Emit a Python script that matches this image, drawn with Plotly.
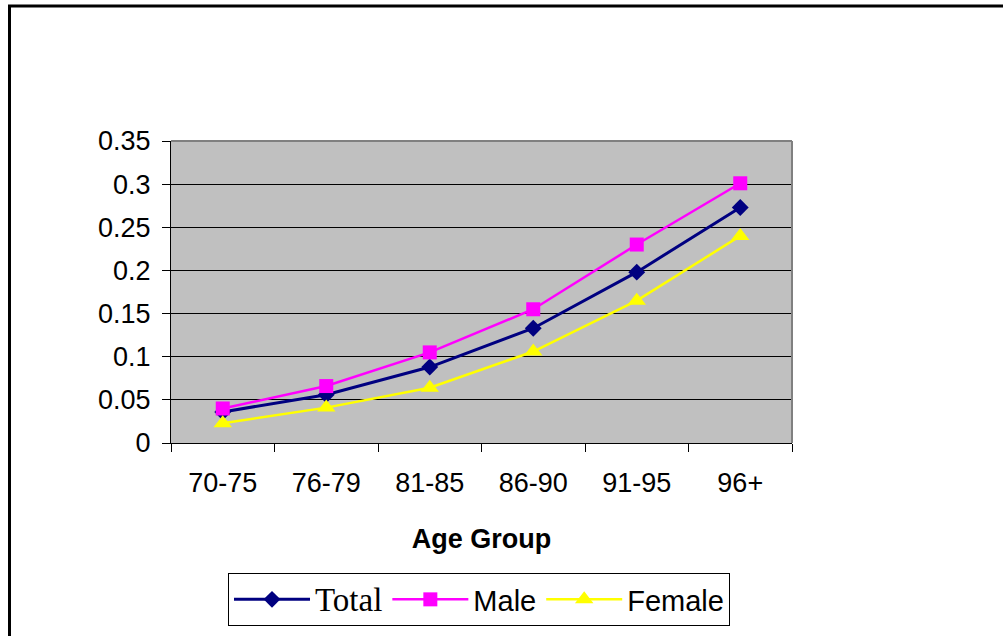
import plotly.graph_objects as go

categories = ["70-75", "76-79", "81-85", "86-90", "91-95", "96+"]
total = [0.036, 0.056, 0.088, 0.133, 0.198, 0.273]
male = [0.040, 0.066, 0.105, 0.155, 0.230, 0.301]
female = [0.023, 0.041, 0.064, 0.106, 0.165, 0.240]
y_ticks = [0, 0.05, 0.1, 0.15, 0.2, 0.25, 0.3, 0.35]
y_ticklabels = ["0", "0.05", "0.1", "0.15", "0.2", "0.25", "0.3", "0.35"]

W, H = 1003, 636
L, R, T, B = 171, 792, 141, 443
pw, ph = R - L, B - T


def px_x(x):
    return (x - L) / pw


def px_y(y):
    return (B - y) / ph


fig = go.Figure()
fig.add_trace(go.Scatter(
    x=categories, y=total, mode="lines+markers",
    name='<span style="font-family:Liberation Serif, Times New Roman, serif;font-size:33px">Total</span>',
    line=dict(color="#000080", width=3),
    marker=dict(symbol="diamond", size=13, color="#000080"),
))
fig.add_trace(go.Scatter(
    x=categories, y=male, mode="lines+markers", name="Male",
    line=dict(color="#FF00FF", width=2.5),
    marker=dict(symbol="square", size=14, color="#FF00FF"),
))
fig.add_trace(go.Scatter(
    x=categories, y=female, mode="lines+markers", name="Female",
    line=dict(color="#FFFF00", width=2.5),
    marker=dict(symbol="triangle-up", size=16, color="#FFFF00"),
))

font_family = "Liberation Sans, Arial, sans-serif"

fig.update_layout(
    width=W, height=H,
    margin=dict(l=L, r=W - R, t=T, b=H - B, pad=0, autoexpand=False),
    paper_bgcolor="white",
    plot_bgcolor="#C0C0C0",
    font=dict(family=font_family, size=27, color="black"),
    showlegend=True,
    legend=dict(
        orientation="h",
        x=px_x(228), y=px_y(573), xanchor="left", yanchor="top",
        bordercolor="black", borderwidth=1, bgcolor="white",
        font=dict(family=font_family, size=29, color="black"),
        itemwidth=76,
    ),
    xaxis=dict(
        type="category",
        range=[-0.5, 5.5],
        tickson="boundaries",
        ticks="outside", ticklen=8, tickcolor="black", tickwidth=1,
        showline=True, linecolor="black", linewidth=1,
        showgrid=False, zeroline=False,
        ticklabelstandoff=16,
        tickfont=dict(size=27),
        title=dict(text="<b>Age Group</b>", font=dict(size=27), standoff=31),
    ),
    yaxis=dict(
        range=[0, 0.35],
        tickvals=y_ticks, ticktext=y_ticklabels,
        ticks="outside", ticklen=8, tickcolor="black", tickwidth=1,
        showline=True, linecolor="black", linewidth=1,
        showgrid=True, gridcolor="black", gridwidth=1,
        zeroline=False,
        ticklabelstandoff=6,
        tickfont=dict(size=27),
    ),
    shapes=[
        dict(type="line", xref="paper", yref="paper", x0=0, x1=1, y0=1, y1=1,
             line=dict(color="#808080", width=2)),
        dict(type="line", xref="paper", yref="paper", x0=1, x1=1, y0=0, y1=1,
             line=dict(color="#808080", width=2)),
        dict(type="rect", xref="paper", yref="paper",
             x0=px_x(9.5), x1=px_x(1015), y0=px_y(650), y1=px_y(6),
             line=dict(color="black", width=3), layer="below"),
    ],
)

fig.write_html(
    "out.html",
    config={"displayModeBar": False},
    post_script="document.body.style.margin='0';document.body.style.overflow='hidden';",
)
